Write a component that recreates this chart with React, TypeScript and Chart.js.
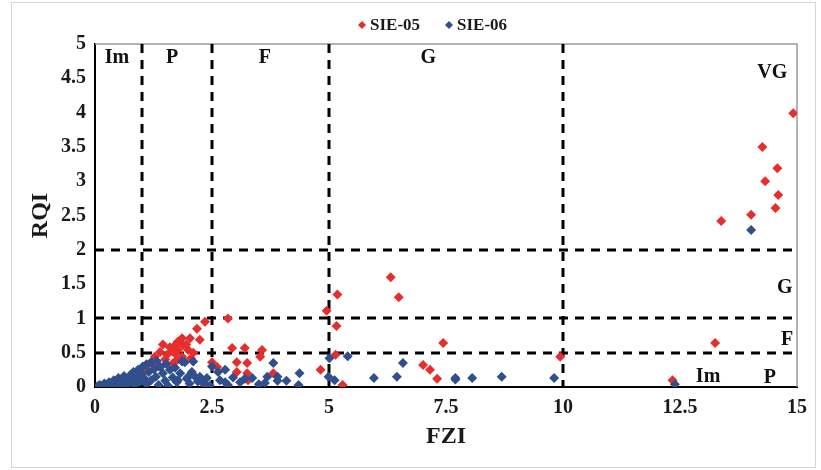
import { useEffect, useRef } from 'react';
import { Chart, registerables } from 'chart.js';

Chart.register(...registerables);

// FZI (x) / RQI (y) pairs for each well
const sie05: [number, number][] = [
  [14.92, 3.99], [14.26, 3.5], [14.58, 3.19], [14.32, 3.0], [14.6, 2.8], [14.54, 2.61],
  [14.02, 2.51], [13.38, 2.42], [13.25, 0.64], [12.34, 0.1], [9.94, 0.44],
  [6.32, 1.6], [6.49, 1.31], [5.18, 1.35], [4.95, 1.11], [5.16, 0.89], [7.44, 0.64],
  [5.14, 0.47], [7.01, 0.32], [7.16, 0.25], [7.31, 0.12], [4.82, 0.25], [3.81, 0.2], [5.29, 0.03],
  [2.84, 1.0], [2.35, 0.95], [2.18, 0.85], [2.24, 0.69], [2.03, 0.71], [1.86, 0.71], [1.88, 0.61],
  [1.77, 0.54], [1.99, 0.54], [1.71, 0.49], [1.86, 0.44], [1.75, 0.39], [2.93, 0.57], [3.2, 0.57],
  [3.57, 0.54], [3.03, 0.36], [3.25, 0.35], [3.53, 0.44], [2.61, 0.29], [3.03, 0.22], [3.25, 0.2],
  [2.5, 0.36], [2.35, 0.03], [1.77, 0.66], [1.6, 0.58], [1.39, 0.51], [1.28, 0.44], [1.54, 0.47],
  [1.18, 0.35], [1.67, 0.35], [1.07, 0.28], [1.45, 0.62], [1.65, 0.52], [1.5, 0.4], [1.95, 0.62],
  [2.1, 0.5], [1.35, 0.3], [1.0, 0.22], [0.9, 0.18], [0.6, 0.1], [0.3, 0.06], [0.1, 0.0],
  [0.8, 0.15], [1.25, 0.38], [1.7, 0.6], [2.05, 0.42], [3.27, 0.1],
];

const sie06: [number, number][] = [
  [0.05, 0.01], [0.1, 0.03], [0.15, 0.02], [0.2, 0.05], [0.25, 0.03], [0.3, 0.07], [0.3, 0.01],
  [0.35, 0.05], [0.4, 0.1], [0.45, 0.03], [0.5, 0.08], [0.5, 0.13], [0.55, 0.05], [0.6, 0.1],
  [0.62, 0.16], [0.65, 0.02], [0.7, 0.12], [0.72, 0.06], [0.76, 0.18], [0.8, 0.1], [0.82, 0.22],
  [0.85, 0.03], [0.9, 0.14], [0.92, 0.25], [0.96, 0.08], [1.0, 0.18], [1.02, 0.3], [1.06, 0.12],
  [1.1, 0.33], [1.1, 0.04], [1.15, 0.22], [1.2, 0.36], [1.2, 0.1], [1.26, 0.26], [1.3, 0.15],
  [1.32, 0.38], [1.36, 0.03], [1.4, 0.29], [1.45, 0.2], [1.5, 0.09], [1.52, 0.34], [1.56, 0.02],
  [1.6, 0.25], [1.66, 0.14], [1.71, 0.28], [1.75, 0.07], [1.77, 0.1], [1.82, 0.2], [1.86, 0.37],
  [1.92, 0.36], [1.96, 0.12], [1.99, 0.15], [2.02, 0.05], [2.07, 0.22], [2.1, 0.37], [2.14, 0.15],
  [2.2, 0.08], [2.24, 0.15], [2.31, 0.06], [2.39, 0.13], [2.45, 0.02], [2.5, 0.3], [2.63, 0.22],
  [2.67, 0.1], [2.78, 0.25], [2.78, 0.07], [2.84, 0.03], [2.95, 0.14], [3.1, 0.07], [3.2, 0.12],
  [3.36, 0.13], [3.5, 0.04], [3.63, 0.06], [3.68, 0.15], [3.81, 0.35], [3.9, 0.15], [3.9, 0.09],
  [4.09, 0.09], [4.37, 0.2], [4.35, 0.03], [4.99, 0.15], [5.01, 0.42], [5.12, 0.1], [5.4, 0.45],
  [5.96, 0.13], [6.45, 0.15], [6.58, 0.35], [7.7, 0.13], [7.7, 0.11], [8.06, 0.13], [8.69, 0.15],
  [9.81, 0.13], [12.39, 0.04], [14.02, 2.29],
];

// Reservoir-quality class boundaries
const fziBounds = [1, 2.5, 5, 10];
const rqiBounds = [0.5, 1, 2];

// Class names along the top (FZI classes) and down the right side (RQI classes)
const fziClassLabels: [string, number, number][] = [
  ['Im', 0.47, 4.8], ['P', 1.65, 4.8], ['F', 3.63, 4.8], ['G', 7.12, 4.8], ['VG', 14.47, 4.58],
];
const rqiClassLabels: [string, number, number][] = [
  ['G', 14.74, 1.44], ['F', 14.79, 0.69], ['P', 14.42, 0.13], ['Im', 13.1, 0.15],
];

const seriesNames = ['SIE-05', 'SIE-06'];
const seriesColors = ['#e62e2d', '#2f4f8d'];

const SERIF = '"Liberation Serif", "Times New Roman", serif';

const overlay = {
  id: 'overlay',
  beforeDatasetsDraw(chart: any) {
    const { ctx, chartArea: a, scales } = chart;
    const xs = scales.x;
    const ys = scales.y;
    ctx.save();
    // top and right frame of the plot
    ctx.strokeStyle = '#9a9a9a';
    ctx.lineWidth = 1.5;
    ctx.beginPath();
    ctx.moveTo(a.left, a.top);
    ctx.lineTo(a.right, a.top);
    ctx.lineTo(a.right, a.bottom);
    ctx.stroke();

    // dashed class boundaries
    ctx.strokeStyle = '#000';
    ctx.lineWidth = 3;
    ctx.setLineDash([9, 7]);
    for (const v of fziBounds) {
      const px = Math.round(xs.getPixelForValue(v));
      ctx.beginPath();
      ctx.moveTo(px, a.top);
      ctx.lineTo(px, a.bottom);
      ctx.stroke();
    }
    for (const v of rqiBounds) {
      const py = Math.round(ys.getPixelForValue(v));
      ctx.beginPath();
      ctx.moveTo(a.left, py);
      ctx.lineTo(a.right, py);
      ctx.stroke();
    }
    ctx.setLineDash([]);

    // class names
    ctx.fillStyle = '#111';
    ctx.font = `bold 20px ${SERIF}`;
    ctx.textAlign = 'center';
    ctx.textBaseline = 'middle';
    for (const [t, x, y] of [...fziClassLabels, ...rqiClassLabels]) {
      ctx.fillText(t, xs.getPixelForValue(x), ys.getPixelForValue(y));
    }
    ctx.restore();
  },
  afterDraw(chart: any) {
    const { ctx, width, height } = chart;
    ctx.save();
    // outer frame
    ctx.strokeStyle = '#d6d6d6';
    ctx.lineWidth = 1;
    ctx.strokeRect(11.5, 2.5, width - 17, height - 5);

    // legend
    ctx.font = `bold 17px ${SERIF}`;
    ctx.textAlign = 'left';
    ctx.textBaseline = 'middle';
    const legendX = [362, 449];
    const legendY = 25;
    seriesNames.forEach((name, i) => {
      const cx = legendX[i];
      ctx.fillStyle = seriesColors[i];
      ctx.beginPath();
      ctx.moveTo(cx, legendY - 4);
      ctx.lineTo(cx + 4, legendY);
      ctx.lineTo(cx, legendY + 4);
      ctx.lineTo(cx - 4, legendY);
      ctx.closePath();
      ctx.fill();
      ctx.fillStyle = '#1a1a1a';
      ctx.fillText(name, cx + 8, legendY + 1);
    });
    ctx.restore();
  },
};

const plainNumber = (v: number | string) => String(Number(v));

export default function App() {
  const canvasRef = useRef<HTMLCanvasElement | null>(null);

  useEffect(() => {
    if (!canvasRef.current) return;
    const tickFont = { family: SERIF, weight: 'bold' as const, size: 20 };
    const chart = new Chart(canvasRef.current, {
      type: 'scatter',
      data: {
        datasets: [
          {
            label: seriesNames[0],
            data: sie05.map(([x, y]) => ({ x, y })),
            backgroundColor: seriesColors[0],
            borderColor: seriesColors[0],
            borderWidth: 0,
            pointStyle: 'rectRot',
            pointRadius: 5,
            order: 1,
          },
          {
            label: seriesNames[1],
            data: sie06.map(([x, y]) => ({ x, y })),
            backgroundColor: seriesColors[1],
            borderColor: seriesColors[1],
            borderWidth: 0,
            pointStyle: 'rectRot',
            pointRadius: 5,
            order: 0,
          },
        ],
      },
      options: {
        animation: false,
        responsive: true,
        maintainAspectRatio: false,
        layout: { padding: { top: 44, right: 24, left: 0, bottom: 0 } },
        plugins: { legend: { display: false }, tooltip: { enabled: false } },
        scales: {
          x: {
            type: 'linear',
            min: 0,
            max: 15,
            ticks: { stepSize: 2.5, font: tickFont, color: '#1a1a1a', padding: 9, maxRotation: 0, callback: plainNumber },
            grid: { display: false, drawTicks: false },
            border: { display: true, color: '#000', width: 2 },
            title: {
              display: true,
              text: 'FZI',
              font: { family: SERIF, weight: 'bold', size: 24 },
              color: '#1a1a1a',
              padding: { top: 0, bottom: 19 },
            },
            afterFit: (s: any) => { s.height = 83; },
          },
          y: {
            type: 'linear',
            min: 0,
            max: 5,
            ticks: { stepSize: 0.5, font: tickFont, color: '#1a1a1a', padding: 9, callback: plainNumber },
            grid: { display: false, drawTicks: false },
            border: { display: true, color: '#000', width: 2 },
            title: {
              display: true,
              text: 'RQI',
              font: { family: SERIF, weight: 'bold', size: 24 },
              color: '#1a1a1a',
              padding: { top: 26, bottom: 0 },
            },
            afterFit: (s: any) => { s.width = 95; },
          },
        },
      },
      plugins: [overlay],
    });
    return () => chart.destroy();
  }, []);

  return (
    <div style={{ position: 'absolute', left: 0, top: 0, width: 821, height: 470, background: '#fff' }}>
      <canvas ref={canvasRef} />
    </div>
  );
}
